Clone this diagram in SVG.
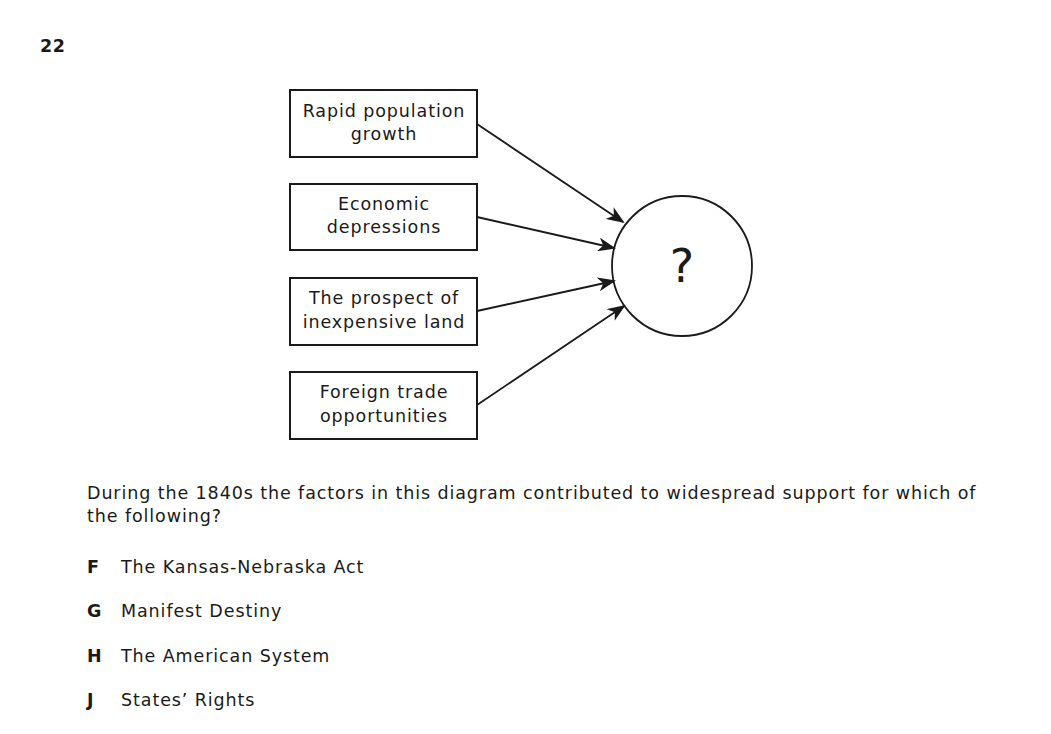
<svg xmlns="http://www.w3.org/2000/svg" width="1051" height="734" viewBox="0 0 1051 734">
<style>
text{font-family:"DejaVu Sans",Verdana,sans-serif;fill:#1a1a1a;}
.t{font-size:17.5px;letter-spacing:0.9px;}
.c{text-anchor:middle;}
.b{font-weight:bold;letter-spacing:0.5px;}
.box{fill:#fff;stroke:#1a1a1a;stroke-width:2;}
.ln{stroke:#1a1a1a;stroke-width:1.8;fill:none;marker-end:url(#ah);}
</style>
<defs>
<marker id="ah" markerWidth="18" markerHeight="14" refX="16" refY="7" orient="auto" markerUnits="userSpaceOnUse">
<path d="M0,0 L18,7 L0,14 L5,7 Z" fill="#1a1a1a"/>
</marker>
</defs>
<rect width="1051" height="734" fill="#fff"/>
<text x="40" y="52" class="t b">22</text>
<g id="n1"><rect class="box" x="290" y="90" width="187" height="67"/><text class="t c" x="384" y="117">Rapid population</text><text class="t c" x="384" y="140">growth</text></g>
<g id="n2"><rect class="box" x="290" y="184" width="187" height="66"/><text class="t c" x="384" y="210">Economic</text><text class="t c" x="384" y="233">depressions</text></g>
<g id="n3"><rect class="box" x="290" y="278" width="187" height="67"/><text class="t c" x="384" y="304">The prospect of</text><text class="t c" x="384" y="328">inexpensive land</text></g>
<g id="n4"><rect class="box" x="290" y="372" width="187" height="67"/><text class="t c" x="384" y="398">Foreign trade</text><text class="t c" x="384" y="422">opportunities</text></g>
<g id="center"><circle cx="682" cy="266" r="70" fill="#fff" stroke="#1a1a1a" stroke-width="1.8"/><text class="c" x="682" y="282" style="font-size:46px">?</text></g>
<g id="connectors">
<line class="ln" x1="477" y1="124" x2="623" y2="222"/>
<line class="ln" x1="477" y1="217" x2="614" y2="248"/>
<line class="ln" x1="477" y1="311" x2="614" y2="281"/>
<line class="ln" x1="477" y1="405" x2="624" y2="306"/>
</g>
<text class="t" x="87" y="499">During the 1840s the factors in this diagram contributed to widespread support for which of</text>
<text class="t" x="87" y="522">the following?</text>
<text class="t b" x="87" y="573">F</text><text class="t" x="121" y="573">The Kansas-Nebraska Act</text>
<text class="t b" x="87" y="617">G</text><text class="t" x="121" y="617">Manifest Destiny</text>
<text class="t b" x="87" y="662">H</text><text class="t" x="121" y="662">The American System</text>
<text class="t b" x="87" y="706">J</text><text class="t" x="121" y="706">States’ Rights</text>
</svg>
